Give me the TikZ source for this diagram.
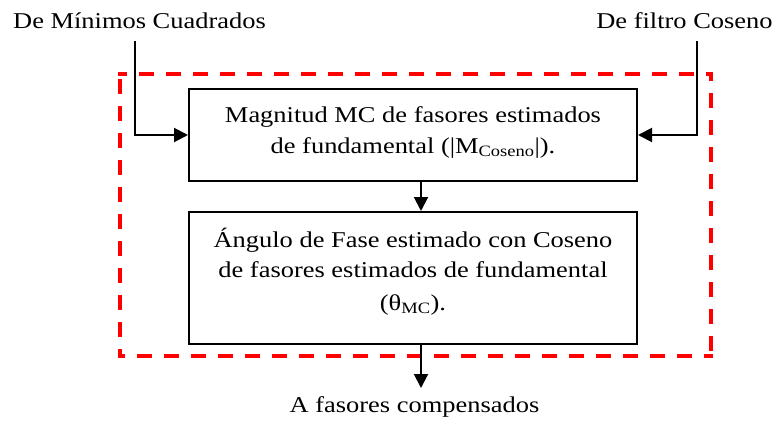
\documentclass[tikz,border=0pt]{standalone}
\usepackage{fontspec}
\setmainfont{Liberation Serif}[FakeStretch=1.17]
\usetikzlibrary{arrows.meta}
\begin{document}
\begin{tikzpicture}[x=1pt,y=-1pt,
  box/.style={draw=black, line width=2pt, minimum width=448pt, inner sep=0pt},
  txt/.style={anchor=base, inner sep=0pt, font=\fontsize{22.6}{31}\selectfont},
  conn/.style={draw=black, line width=2pt, -{Triangle[length=14pt,width=14pt]}},
  frameside/.style={draw=red, line width=4.5pt, line cap=rect, dash pattern=on 10.5pt off 16.5pt, dash phase=6pt}]
\useasboundingbox (0,0) rectangle (774,423);
% dashed red frame
\coordinate (ftl) at (120,74);
\coordinate (ftr) at (711,74);
\coordinate (fbr) at (711,356);
\coordinate (fbl) at (120,356);
\draw[frameside] (ftl) -- (ftr);
\draw[frameside] (ftr) -- (fbr);
\draw[frameside] (fbr) -- (fbl);
\draw[frameside] (fbl) -- (ftl);
% boxes
\node[box, minimum height=92pt] (b1) at (413,135) {};
\node[box, minimum height=132pt] (b2) at (413,278) {};
% texts
\node[txt] (t1a) at (413,122) {Magnitud MC de fasores estimados};
\node[txt] (t1b) at (413,153) {de fundamental (|M\textsubscript{Coseno}|).};
\node[txt] (t2a) at (413,247) {Ángulo de Fase estimado con Coseno};
\node[txt] (t2b) at (413,277) {de fasores estimados de fundamental};
\node[txt] (t2c) at (413,310) {(θ\textsubscript{MC}).};
\node[txt] (in1) at (139.5,28) {De Mínimos Cuadrados};
\node[txt] (in2) at (684.5,28) {De filtro Coseno};
\node[txt] (out) at (414.5,412) {A fasores compensados};
% connectors
\coordinate (s1) at (135,41);
\coordinate (s2) at (697,41);
\coordinate (e) at (421,388);
\draw[conn] (s1) |- (b1.west);
\draw[conn] (s2) |- (b1.east);
\draw[conn] ([xshift=8pt]b1.south) -- ([xshift=8pt]b2.north);
\draw[conn] ([xshift=8pt]b2.south) -- (e);
\end{tikzpicture}
\end{document}
